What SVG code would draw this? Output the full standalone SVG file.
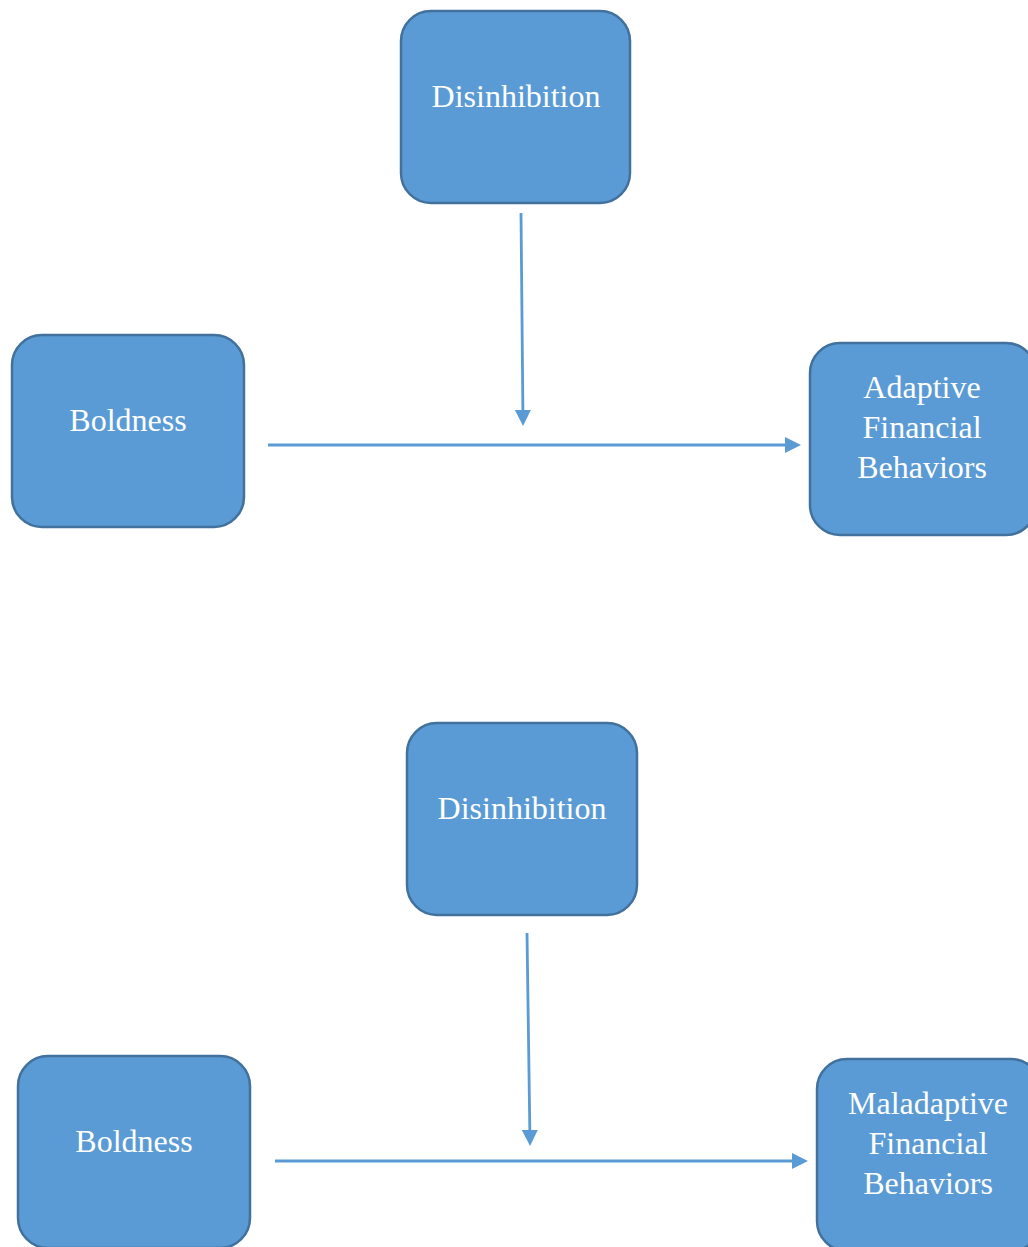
<svg xmlns="http://www.w3.org/2000/svg" width="1028" height="1247" viewBox="0 0 1028 1247">
<style>
.box{fill:#5B9BD5;stroke:#41719C;stroke-width:2.5}
.lbl{font-family:"Liberation Serif","Times New Roman",serif;font-size:32px;fill:#fff;text-anchor:middle}
.con{stroke:#5B9BD5;stroke-width:2.8;fill:none}
</style>
<defs>
<marker id="ah" viewBox="0 0 10 10" refX="7.5" refY="5" markerWidth="16" markerHeight="16" markerUnits="userSpaceOnUse" orient="auto">
<path d="M0,0 L10,5 L0,10 z" fill="#5B9BD5"/>
</marker>
</defs>
<rect width="1028" height="1247" fill="#fff"/>
<g id="connectors">
<line class="con" x1="521" y1="213" x2="523" y2="422" marker-end="url(#ah)"/>
<line class="con" x1="268" y1="445" x2="797" y2="445" marker-end="url(#ah)"/>
<line class="con" x1="527" y1="933" x2="530" y2="1142" marker-end="url(#ah)"/>
<line class="con" x1="275" y1="1161" x2="804" y2="1161" marker-end="url(#ah)"/>
</g>
<g id="disinhibition1">
<rect class="box" x="401" y="11" width="229" height="192" rx="30"/>
<text class="lbl" x="516" y="107">Disinhibition</text>
</g>
<g id="boldness1">
<rect class="box" x="12" y="335" width="232" height="192" rx="30"/>
<text class="lbl" x="128" y="431">Boldness</text>
</g>
<g id="adaptive">
<rect class="box" x="810" y="343" width="226" height="192" rx="30"/>
<text class="lbl" x="922" y="398">Adaptive</text>
<text class="lbl" x="922" y="438">Financial</text>
<text class="lbl" x="922" y="478">Behaviors</text>
</g>
<g id="disinhibition2">
<rect class="box" x="407" y="723" width="230" height="192" rx="30"/>
<text class="lbl" x="522" y="819">Disinhibition</text>
</g>
<g id="boldness2">
<rect class="box" x="18" y="1056" width="232" height="192" rx="30"/>
<text class="lbl" x="134" y="1152">Boldness</text>
</g>
<g id="maladaptive">
<rect class="box" x="817" y="1059" width="224" height="192" rx="30"/>
<text class="lbl" x="928" y="1114">Maladaptive</text>
<text class="lbl" x="928" y="1154">Financial</text>
<text class="lbl" x="928" y="1194">Behaviors</text>
</g>
</svg>
